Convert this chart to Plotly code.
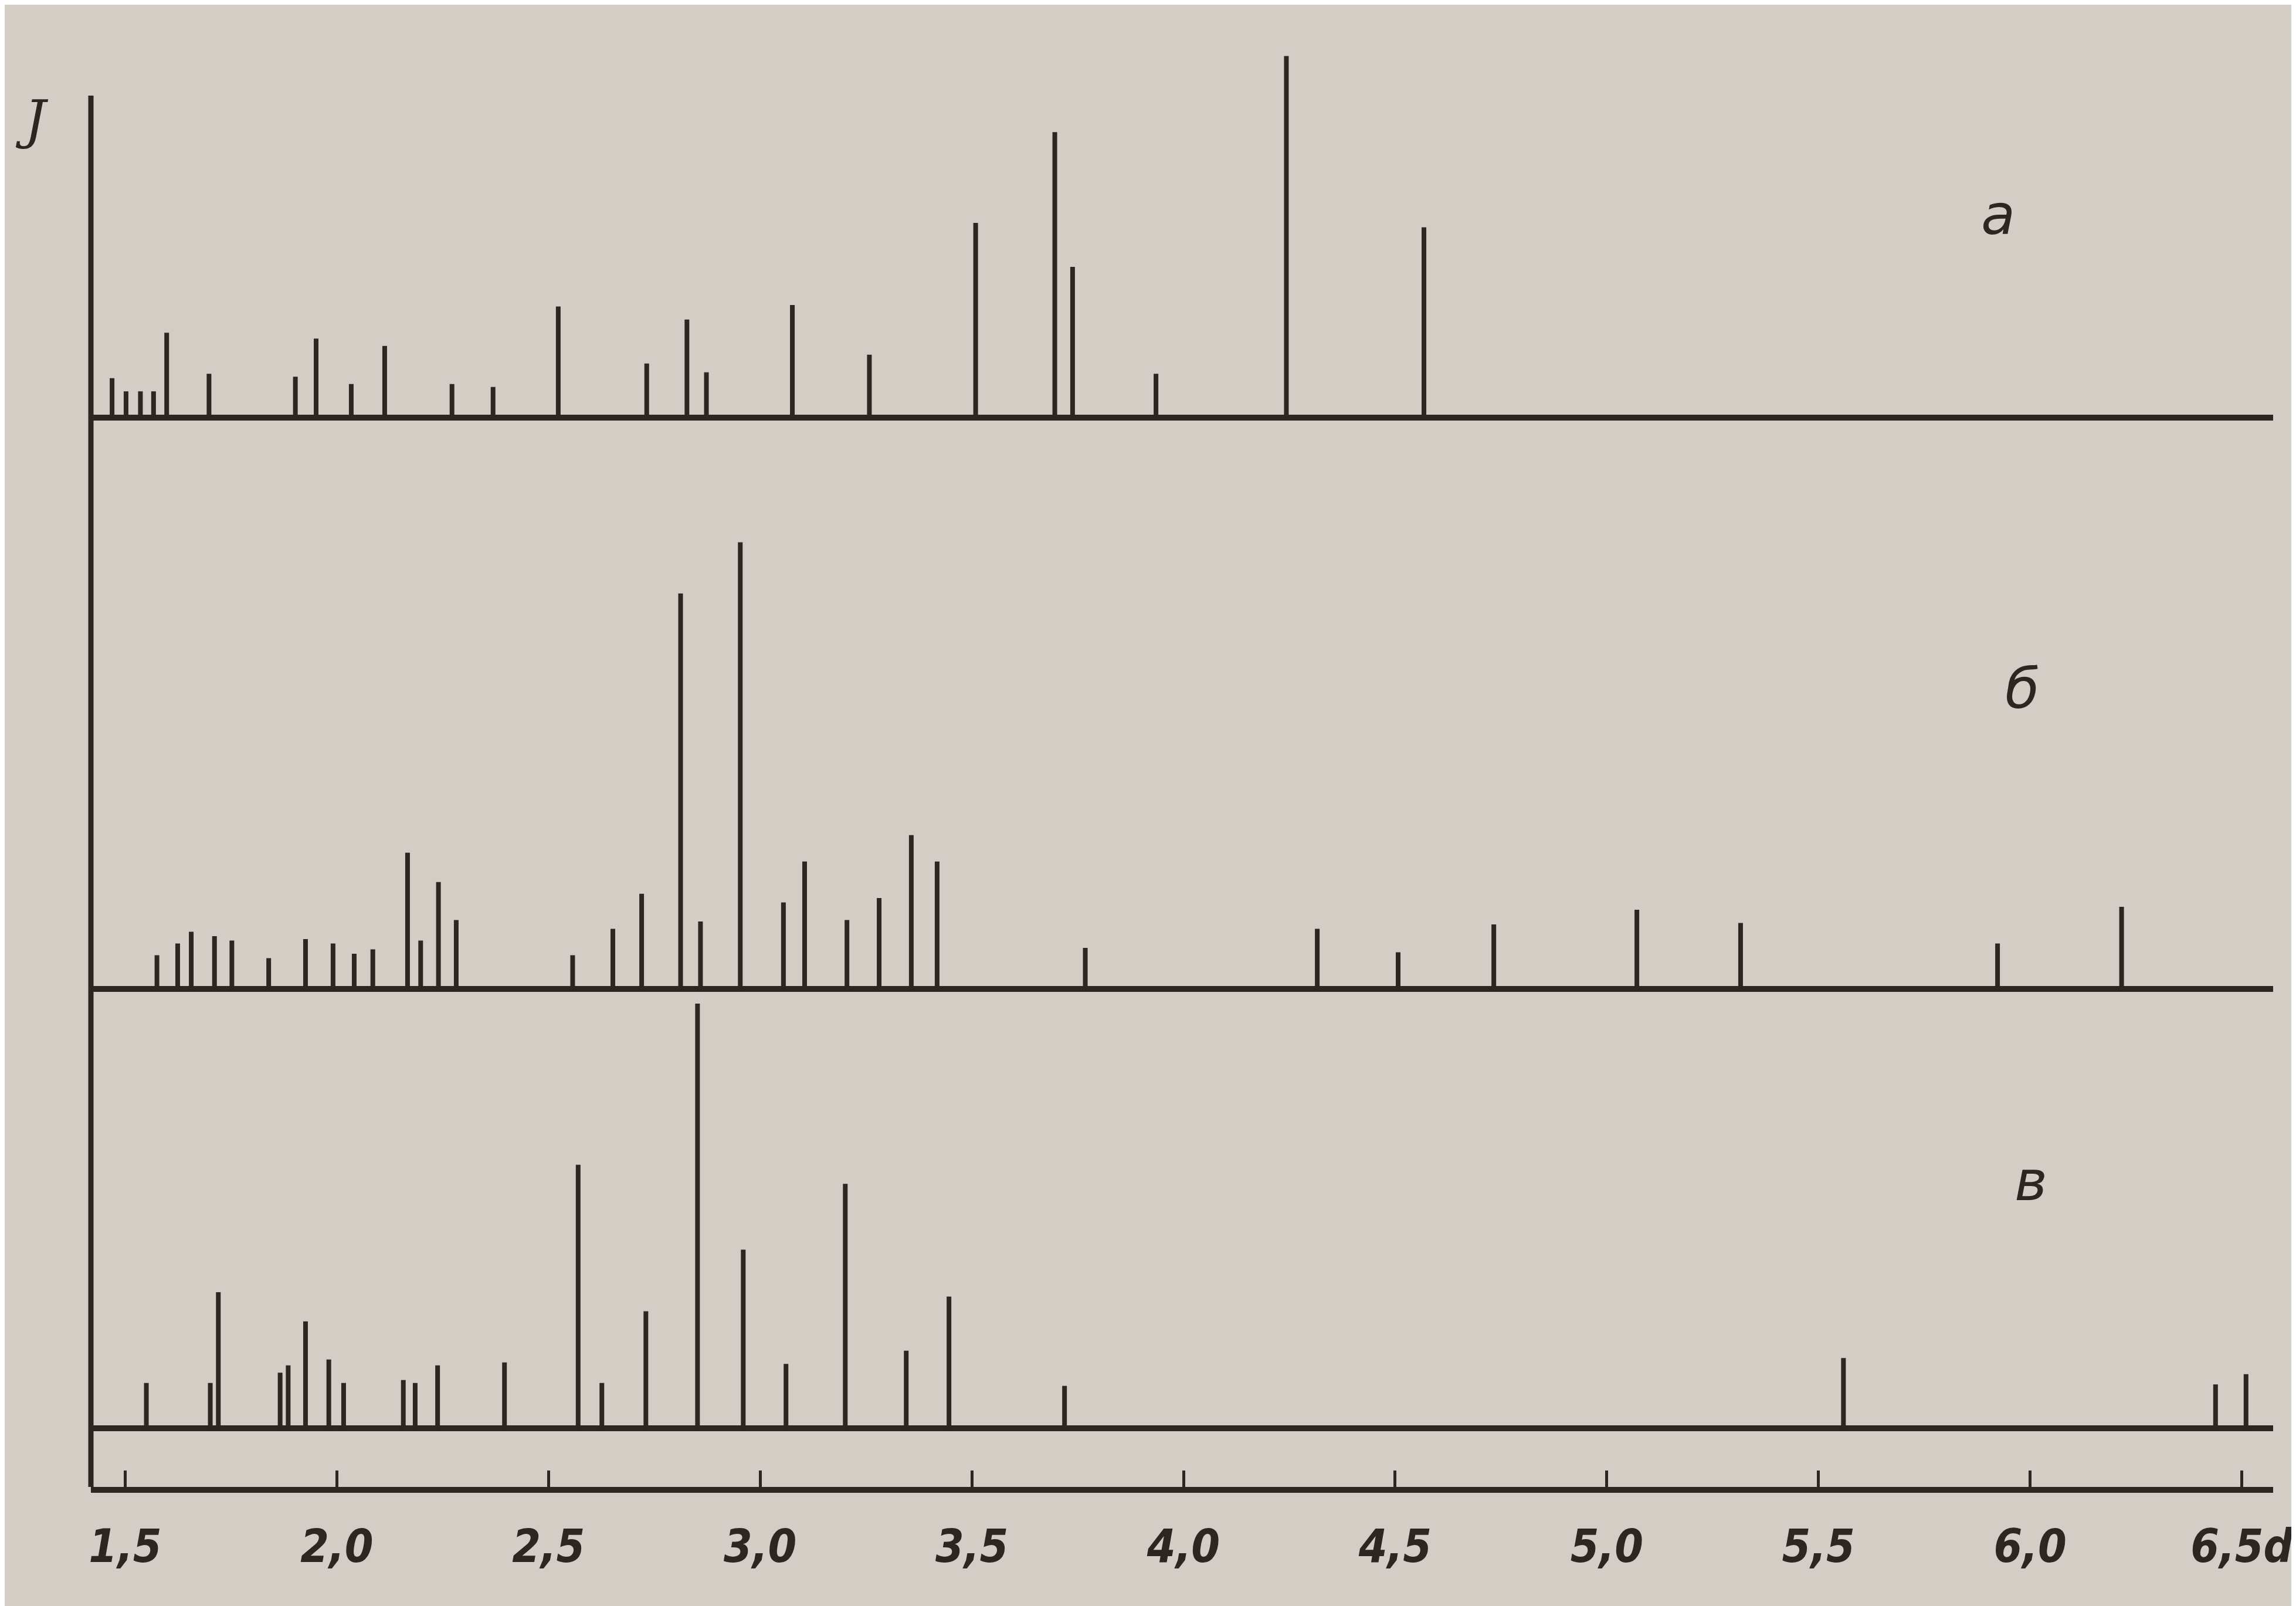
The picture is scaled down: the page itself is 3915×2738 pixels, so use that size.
import plotly.graph_objects as go

# ---- data (interplanar spacing d, relative intensity J) ----
a_d = [1.469, 1.502, 1.536, 1.567, 1.598, 1.698, 1.902, 1.951, 2.034, 2.113, 2.272, 2.369,
       2.523, 2.732, 2.827, 2.873, 3.076, 3.258, 3.509, 3.696, 3.738, 3.935, 4.243, 4.568]
a_J = [27, 18, 18, 18, 58, 30, 28, 54, 23, 49, 23, 21,
       76, 37, 67, 31, 77, 43, 133, 195, 103, 30, 247, 130]

b_d = [1.575, 1.624, 1.656, 1.711, 1.752, 1.839, 1.926, 1.991, 2.041, 2.085, 2.167, 2.198,
       2.240, 2.282, 2.557, 2.652, 2.720, 2.812, 2.859, 2.953, 3.055, 3.105, 3.205, 3.281,
       3.357, 3.418, 3.768, 4.316, 4.507, 4.733, 5.071, 5.316, 5.923, 6.216]
b_J = [23, 31, 39, 36, 33, 21, 34, 31, 24, 27, 93, 33,
       73, 47, 23, 41, 65, 270, 46, 305, 59, 87, 47, 62,
       105, 87, 28, 41, 25, 44, 54, 45, 31, 56]

c_d = [1.550, 1.701, 1.720, 1.866, 1.885, 1.926, 1.981, 2.016, 2.157, 2.185, 2.238, 2.396,
       2.570, 2.626, 2.730, 2.852, 2.960, 3.061, 3.201, 3.345, 3.446, 3.719, 5.559, 6.438, 6.510]
c_J = [31, 31, 93, 38, 43, 73, 47, 31, 33, 31, 43, 45,
       180, 31, 80, 290, 122, 44, 167, 53, 90, 29, 48, 30, 37]

tick_vals = [1.5, 2.0, 2.5, 3.0, 3.5, 4.0, 4.5, 5.0, 5.5, 6.0, 6.5]
tick_text = ["1,5", "2,0", "2,5", "3,0", "3,5", "4,0", "4,5", "5,0", "5,5", "6,0", "6,5d"]
panel_labels = ["а", "б", "в"]

INK = "#2b2622"
PAPER = "#d3cdc5"
NARROW = "DejaVu Sans Condensed, Liberation Sans Narrow, Liberation Sans, sans-serif"


def sticks(d, J):
    xs, ys = [], []
    for xv, yv in zip(d, J):
        xs += [xv, xv, None]
        ys += [0, yv, None]
    return xs, ys


fig = go.Figure()
for d, J, ya in [(a_d, a_J, "y"), (b_d, b_J, "y2"), (c_d, c_J, "y3")]:
    xs, ys = sticks(d, J)
    fig.add_trace(go.Scatter(x=xs, y=ys, mode="lines", yaxis=ya, xaxis="x",
                             line=dict(color=INK, width=8), hoverinfo="skip",
                             showlegend=False))

yax_common = dict(showticklabels=False, showgrid=False, ticks="", showline=False,
                  zeroline=True, zerolinecolor=INK, zerolinewidth=10, anchor="x",
                  fixedrange=True)

fig.update_layout(
    width=3915, height=2738,
    margin=dict(l=147, r=45, t=25, b=211),
    paper_bgcolor=PAPER, plot_bgcolor="rgba(0,0,0,0)",
    xaxis=dict(range=[1.419, 6.574], anchor="y3", showgrid=False, zeroline=False,
               showline=True, linecolor=INK, linewidth=10,
               ticks="inside", ticklen=28, tickwidth=5, tickcolor=INK,
               tickvals=tick_vals, ticktext=tick_text, ticklabelstandoff=24,
               tickfont=dict(family=NARROW, size=78, color=INK,
                             style="italic", weight="bold")),
    yaxis=dict(domain=[0.7106, 1.0], range=[-18, 272], **yax_common),
    yaxis2=dict(domain=[0.3214, 0.6557], range=[-18, 317], **yax_common),
    yaxis3=dict(domain=[0.0, 0.3313], range=[-40, 292], **yax_common),
    shapes=[dict(type="line", xref="paper", yref="paper", x0=0, x1=0, y0=0, y1=0.948,
                 line=dict(color=INK, width=9))],
)

lbl_font = dict(family="DejaVu Sans, sans-serif", size=95, color=INK, style="italic")
annos = [
    dict(text="J", x=-0.027, y=0.932, font=dict(family="DejaVu Serif, serif", size=90,
                                                  color=INK, style="italic")),
    dict(text=panel_labels[0], x=0.874, y=0.867, font=lbl_font),
    dict(text=panel_labels[1], x=0.885, y=0.544, font=lbl_font),
    dict(text=panel_labels[2], x=0.889, y=0.2086, font=lbl_font),
]
for a in annos:
    fig.add_annotation(xref="paper", yref="paper", xanchor="center", yanchor="middle",
                       showarrow=False, **a)

fig.write_html("out.html")
